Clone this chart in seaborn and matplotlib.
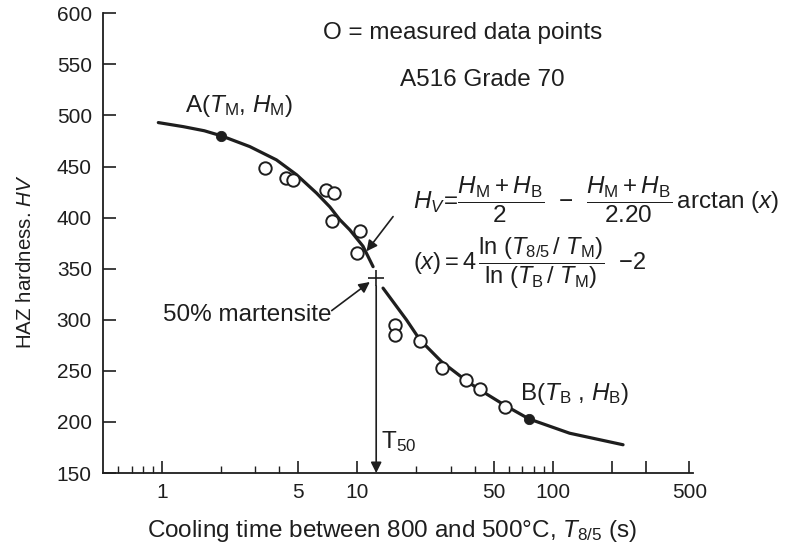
import matplotlib.pyplot as plt
import seaborn as sns
from matplotlib.ticker import FixedLocator, NullFormatter

# measured points (open circles)
meas_t = [3.37, 4.31, 4.68, 6.90, 7.59, 7.41, 10.3, 9.95, 15.6, 15.6, 20.9, 27.0, 36.2, 42.3, 56.7]
meas_hv = [449, 439, 437, 427, 424, 397, 387, 365, 295, 285, 279, 253, 241, 232, 215]

# fitted curve (broken around the 50% point)
curve_hi_t = [0.96, 1.29, 1.65, 2.02, 2.82, 3.86, 4.89, 6.19, 7.24, 8.14, 9.16, 10.7, 12.05]
curve_hi_hv = [493, 489, 485, 480, 469.5, 456.5, 442, 424, 410.5, 398, 388, 372, 352]
curve_lo_t = [13.55, 17.85, 20.9, 27.0, 36.2, 42.3, 57.5, 75.6, 122, 229]
curve_lo_hv = [331, 300, 280.5, 259, 240.3, 231.5, 215.8, 203, 189, 177.7]

# special points
point_t = [2.02, 75.6]   # A(TM, HM), B(TB, HB)
point_hv = [480, 203]
t50 = 12.5
hv50 = 341

y_ticks = [150, 200, 250, 300, 350, 400, 450, 500, 550, 600]
x_major = [1, 5, 10, 50, 100, 200, 300, 500]
x_major_labels = ["1", "5", "10", "50", "100", "", "", "500"]
x_minor = [0.6, 0.7, 0.8, 0.9, 2, 3, 4, 20, 30, 40, 60, 70, 80, 90]

sns.set_theme(style="ticks")
plt.rcParams['font.family'] = ['Liberation Sans', 'DejaVu Sans']
plt.rcParams['mathtext.fontset'] = 'custom'
plt.rcParams['mathtext.rm'] = 'Liberation Sans'
plt.rcParams['mathtext.it'] = 'Liberation Sans:italic'
plt.rcParams['mathtext.bf'] = 'Liberation Sans:bold'
plt.rcParams['xtick.direction'] = 'in'
plt.rcParams['ytick.direction'] = 'in'

ink = '#1e1e1e'
fig = plt.figure(figsize=(7.98, 5.52), dpi=100)
ax = fig.add_axes([0.129, 0.143, 0.739, 0.833])

sns.lineplot(x=curve_hi_t, y=curve_hi_hv, color=ink, lw=2.3, ax=ax)
sns.lineplot(x=curve_lo_t, y=curve_lo_hv, color=ink, lw=2.3, ax=ax)
sns.scatterplot(x=meas_t, y=meas_hv, s=80, color='white', edgecolor=ink,
                linewidth=1.4, zorder=3, ax=ax)
sns.scatterplot(x=point_t, y=point_hv, s=55, color=ink, edgecolor=ink,
                zorder=4, ax=ax)
ax.plot([t50], [hv50], marker='+', ms=11, mew=1.2, color=ink)

ax.set_xscale('log')
ax.set_xlim(0.5, 520)
ax.set_ylim(150, 600)

ax.set_yticks(y_ticks)
ax.set_xticks(x_major)
ax.set_xticklabels(x_major_labels)
ax.xaxis.set_minor_locator(FixedLocator(x_minor))
ax.xaxis.set_minor_formatter(NullFormatter())
ax.tick_params(axis='x', which='major', length=9, width=1.2, pad=7, labelsize=15, colors=ink)
ax.tick_params(axis='x', which='minor', length=5, width=1.0, colors=ink)
ax.tick_params(axis='y', which='major', length=9, width=1.2, pad=8, labelsize=15, colors=ink)

sns.despine(ax=ax)
for s in ['left', 'bottom']:
    ax.spines[s].set_linewidth(1.3)
    ax.spines[s].set_color(ink)

ax.set_ylabel(r"HAZ hardness. $HV$", fontsize=14.8, color=ink)
ax.yaxis.set_label_coords(-0.115, 0.46)
ax.set_xlabel(r"Cooling time between 800 and 500°C, $T_{8/5}$ (s)", fontsize=17.5, color=ink)
ax.xaxis.set_label_coords(0.49, -0.098)

# annotations
fs = 17.5
ax.text(6.67, 581, "O = measured data points", fontsize=fs, ha='left', va='center', color=ink)
ax.text(16.5, 535, "A516 Grade 70", fontsize=fs, ha='left', va='center', color=ink)
ax.text(1.31, 509, r"A($T_\mathrm{M}$, $H_\mathrm{M}$)", fontsize=fs, ha='left', va='center', color=ink)
ax.text(67.8, 227, r"B($T_\mathrm{B}$ , $H_\mathrm{B}$)", fontsize=fs, ha='left', va='center', color=ink)
ax.text(1.01, 305, "50% martensite", fontsize=fs, ha='left', va='center', color=ink)
ax.text(13.3, 181, r"T$_{50}$", fontsize=fs, ha='left', va='center', color=ink)

ax.text(19.2, 417, r"$H_V\!=\!\dfrac{H_\mathrm{M} + H_\mathrm{B}}{2}\ \ \mathrm{-}\ \ "
        r"\dfrac{H_\mathrm{M} + H_\mathrm{B}}{2.20}\,\mathrm{arctan}\ (x)$",
        fontsize=17.5, ha='left', va='center', color=ink)
ax.text(19.2, 355, r"$(x) = 4\,\dfrac{\mathrm{ln}\ (T_{8/5}\,/\ T_\mathrm{M})}"
        r"{\mathrm{ln}\ (T_\mathrm{B}\,/\ T_\mathrm{M})}\ \ \mathrm{-}2$",
        fontsize=17, ha='left', va='center', color=ink)

arrow = dict(arrowstyle='-|>', color=ink, lw=1.2, mutation_scale=16, shrinkA=0, shrinkB=0)
ax.annotate("", xy=(t50, 150), xytext=(t50, 333), arrowprops=arrow)
ax.annotate("", xy=(11.6, 337), xytext=(7.4, 309), arrowprops=arrow)
ax.annotate("", xy=(11.15, 367), xytext=(15.25, 401), arrowprops=arrow)

fig.savefig("out.png", dpi=100)
